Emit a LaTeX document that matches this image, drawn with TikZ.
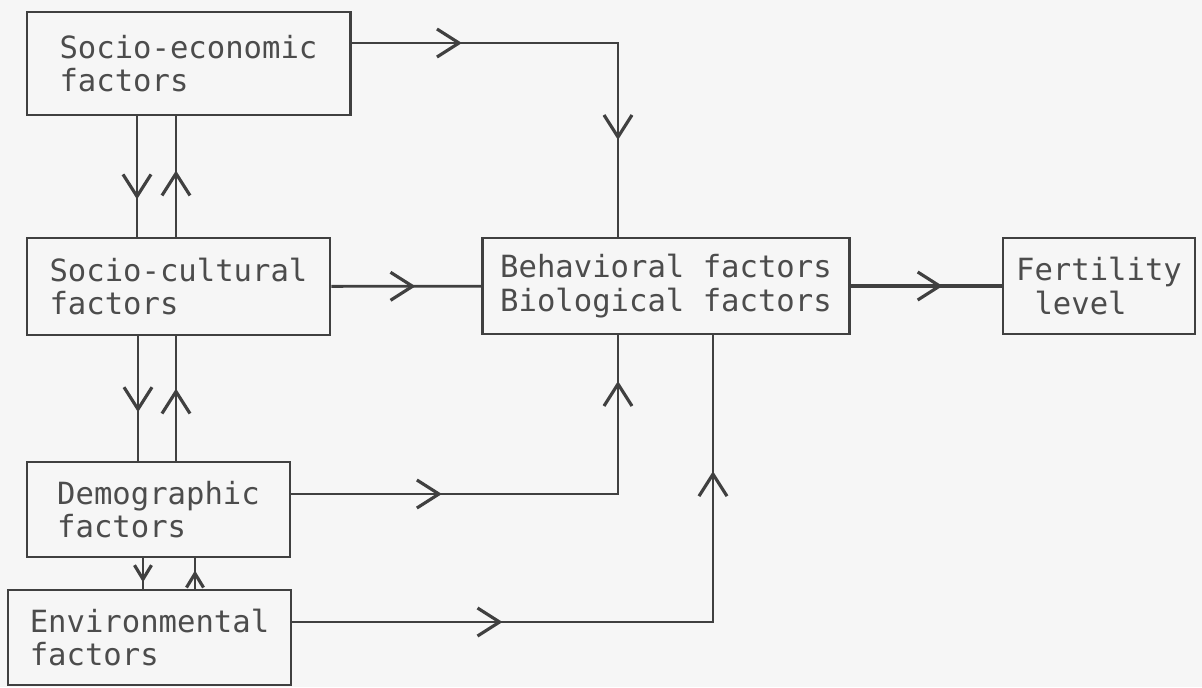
\documentclass[tikz,border=0pt]{standalone}
\usepackage{fontspec}
\usepackage{tikz}
\usetikzlibrary{arrows.meta, decorations.markings}
\usepackage{xcolor}
\newfontfamily\typefont{DejaVu Sans Mono}
\definecolor{ink}{gray}{0.25}
\definecolor{paper}{gray}{0.965}

\begin{document}
\begin{tikzpicture}[
    x=0.01cm, y=-0.01cm,
    factor/.style={
        draw=ink,
        line width=0.8pt,
        rectangle,
        align=left,
        text=black!70,
        inner sep=0pt,
        font=\typefont\fontsize{8.7}{9.6}\selectfont
    },
    link/.style={draw=ink, line width=0.8pt},
    tip/.style={postaction={decorate, decoration={markings,
        mark=at position #1 with {\arrow{Straight Barb[length=2.2mm, width=2.8mm, line width=0.9pt]}}}}},
    smalltip/.style={postaction={decorate, decoration={markings,
        mark=at position #1 with {\arrow{Straight Barb[length=1.4mm, width=1.7mm, line width=0.9pt]}}}}}
]

\fill[paper] (0,0) rectangle (1202,687);
\useasboundingbox (0,0) rectangle (1202,687);

\node (socecon) [factor, minimum width=3.23cm, minimum height=1.03cm] at (188.5,63.5) {Socio-economic\\factors};
\node (soccult) [factor, minimum width=3.03cm, minimum height=0.97cm] at (178.5,286.5) {Socio-cultural\\factors};
\node (demog) [factor, minimum width=2.63cm, minimum height=0.95cm] at (158.5,509.5) {Demographic\\factors};
\node (environ) [factor, minimum width=2.83cm, minimum height=0.95cm] at (149.5,637.5) {Environmental\\factors};
\node (behav) [factor, minimum width=3.66cm, minimum height=0.96cm] at (666,286) {Behavioral factors\\Biological factors};
\node (fertil) [factor, minimum width=1.92cm, minimum height=0.96cm] at (1099,286) {Fertility\\\phantom{l}level};

\coordinate (topbend) at (618,43);
\coordinate (midbend) at (618,494);
\coordinate (lowbend) at (713,622);
\coordinate (downA) at (137,0);
\coordinate (upA) at (176,0);
\coordinate (downB) at (138,0);
\coordinate (upB) at (176,0);
\coordinate (downC) at (143,0);
\coordinate (upC) at (195,0);

\draw[link, tip=0.24, tip=0.79] (socecon.east |- topbend) -| (behav.north -| topbend);
\draw[link, tip=0.69] (socecon.south -| downA) -- (soccult.north -| downA);
\draw[link, tip=0.55] (soccult.north -| upA) -- (socecon.south -| upA);
\draw[link, tip=0.61] (soccult.south -| downB) -- (demog.north -| downB);
\draw[link, tip=0.58] (demog.north -| upB) -- (soccult.south -| upB);
\draw[link, smalltip=0.79] (demog.south -| downC) -- (environ.north -| downC);
\draw[link, smalltip=0.6] (environ.north -| upC) -- (demog.south -| upC);
\draw[link, tip=0.56] (soccult) -- (behav);
\draw[link, tip=0.31, tip=0.906] (demog.east |- midbend) -| (behav.south -| midbend);
\draw[link, tip=0.297, tip=0.808] (environ.east |- lowbend) -| (behav.south -| lowbend);
\draw[link, line width=1.1pt, tip=0.61] (behav) -- (fertil);

\end{tikzpicture}
\end{document}
